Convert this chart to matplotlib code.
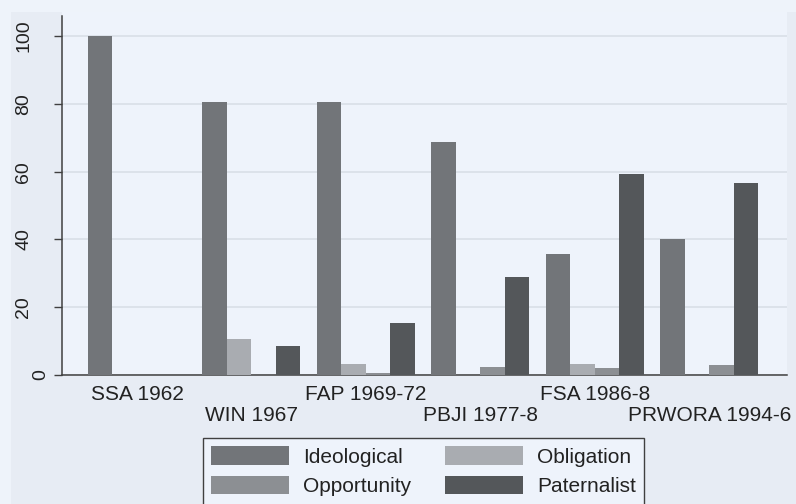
import numpy as np
import matplotlib
matplotlib.use("Agg")
import matplotlib.pyplot as plt
from matplotlib.patches import Rectangle
from matplotlib.transforms import ScaledTranslation

plt.rcParams['font.family'] = ['Liberation Sans', 'DejaVu Sans']

# data
acts = ['SSA 1962', 'WIN 1967', 'FAP 1969-72', 'PBJI 1977-8', 'FSA 1986-8', 'PRWORA 1994-6']
ideological = [100, 80.6, 80.6, 68.6, 35.6, 40.0]
obligation = [0, 10.5, 3.1, 0, 3.2, 0]
opportunity = [0, 0, 0.7, 2.5, 2.0, 3.0]
paternalist = [0, 8.6, 15.4, 28.8, 59.4, 56.6]
yticks = [0, 20, 40, 60, 80, 100]

series = [('Ideological', ideological, '#727579'),
          ('Obligation', obligation, '#a9acb1'),
          ('Opportunity', opportunity, '#8c8f93'),
          ('Paternalist', paternalist, '#54575a')]

fig = plt.figure(figsize=(7.96, 5.04), dpi=100, facecolor='#eef3fa')
# graph region (slightly darker band)
fig.patches.append(Rectangle((11 / 796, 0), 1, 1 - 12 / 504, transform=fig.transFigure,
                             facecolor='#e7ecf4', edgecolor='none', zorder=-5))

ax = fig.add_axes([62 / 796, 1 - 375 / 504, (787 - 62) / 796, (375 - 12) / 504])
ax.set_zorder(1)
ax.set_facecolor('#eef3fb')

x = np.arange(len(acts))
w = 0.214
handles = {}
for i, (name, vals, col) in enumerate(series):
    b = ax.bar(x + (i - 1.5) * w, vals, width=w, color=col, edgecolor='none', zorder=3)
    handles[name] = b

ax.set_xlim(-0.655, 5.677)
ax.set_ylim(0, 107.1)
ax.set_yticks(yticks)
ax.set_yticklabels([str(v) for v in yticks], rotation=90, va='center', fontsize=14, color='#222222')
ax.tick_params(axis='y', length=5.5, width=1, color='#404040', pad=16)
# the "0" label sits closer to the axis in the original
ylabs = ax.get_yticklabels()
ylabs[0].set_transform(ylabs[0].get_transform() + ScaledTranslation(17 / 100, 0, fig.dpi_scale_trans))
ax.yaxis.grid(True, color='#dbe1e9', linewidth=1.3, zorder=0)
ax.set_axisbelow(True)

ax.set_xticks(x)
ax.set_xticklabels(acts, fontsize=15, color='#222222')
ax.tick_params(axis='x', length=0, pad=7)
# stagger every other label one row down
for i, lab in enumerate(ax.get_xticklabels()):
    if i % 2 == 1:
        lab.set_transform(lab.get_transform() + ScaledTranslation(0, -21.5 / 100, fig.dpi_scale_trans))

for s in ['top', 'right']:
    ax.spines[s].set_visible(False)
for s in ['left', 'bottom']:
    ax.spines[s].set_color('#404040')
    ax.spines[s].set_linewidth(1.1)
ax.spines['left'].set_bounds(0, 106)

order = ['Ideological', 'Opportunity', 'Obligation', 'Paternalist']
leg = fig.legend([handles[n] for n in order], order, ncol=2, loc='upper left',
                 bbox_to_anchor=(203 / 796, 1 - 438 / 504), borderaxespad=0,
                 fontsize=15, handlelength=3.75, handleheight=1.0, labelspacing=0.43,
                 handletextpad=0.67, columnspacing=1.6, borderpad=0.4,
                 frameon=True, fancybox=False)
leg.get_frame().set_facecolor('#eef3fb')
leg.get_frame().set_edgecolor('#404040')
leg.get_frame().set_linewidth(1.0)
leg.get_frame().set_alpha(1)
for t in leg.get_texts():
    t.set_color('#222222')

fig.savefig('out.png', dpi=100, facecolor=fig.get_facecolor())
